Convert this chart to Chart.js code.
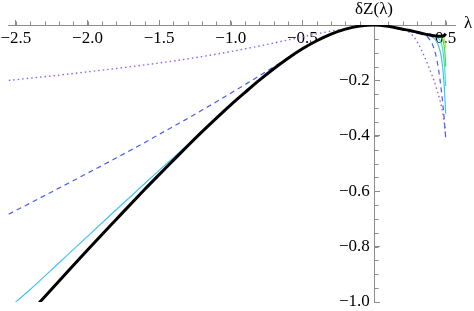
<!DOCTYPE html>
<html>
<head>
<meta charset="utf-8">
<script src="https://cdn.jsdelivr.net/npm/chart.js@4.4.1/dist/chart.umd.min.js"></script>
<style>
    html, body { margin: 0; padding: 0; background: #fff; }
    #wrap { width: 474px; height: 311px; }
</style>
</head>
<body>
<div id="wrap"><canvas id="deltaZ" width="474" height="311"></canvas></div>
<script>
// lambda grid shared by the full-range curves
const lambdaGrid = [-2.55, -2.4, -2.2, -2.0, -1.8, -1.6, -1.5, -1.4, -1.3, -1.2, -1.1, -1.0,
    -0.9, -0.8, -0.7, -0.6, -0.5, -0.4, -0.3, -0.2, -0.1, 0, 0.1, 0.2, 0.25, 0.3, 0.35,
    0.4, 0.42, 0.44, 0.46, 0.47, 0.48, 0.49, 0.495, 0.5];

// exact curve (thick black)
const zExact = [-1.120, -1.038, -0.925, -0.812, -0.702, -0.593, -0.540, -0.488, -0.436, -0.385, -0.336, -0.288,
    -0.243, -0.199, -0.158, -0.120, -0.086, -0.057, -0.033, -0.015, -0.004, 0, -0.005, -0.015, -0.020, -0.026, -0.032,
    -0.037, -0.039, -0.040, -0.041, -0.041, -0.040, -0.038, -0.035, -0.031];

// approximations (dotted purple, dashed blue, cyan)
const zOrder1 = [-0.200, -0.192, -0.181, -0.169, -0.157, -0.144, -0.137, -0.130, -0.122, -0.114, -0.105, -0.096,
    -0.086, -0.076, -0.065, -0.054, -0.043, -0.032, -0.022, -0.013, -0.004, 0, -0.005, -0.016, -0.028, -0.060, -0.112,
    -0.175, -0.203, -0.236, -0.272, -0.294, -0.320, -0.353, -0.375, -0.400];
const zOrder2 = [-0.683, -0.643, -0.589, -0.535, -0.480, -0.424, -0.395, -0.366, -0.337, -0.307, -0.277, -0.246,
    -0.215, -0.183, -0.151, -0.119, -0.086, -0.057, -0.033, -0.015, -0.004, 0, -0.005, -0.015, -0.020, -0.026, -0.034,
    -0.062, -0.088, -0.130, -0.196, -0.238, -0.286, -0.341, -0.373, -0.410];
const zOrder3 = [-1.022, -0.955, -0.859, -0.763, -0.667, -0.572, -0.525, -0.479, -0.432, -0.385, -0.336, -0.288,
    -0.243, -0.199, -0.158, -0.120, -0.086, -0.057, -0.033, -0.015, -0.004, 0, -0.005, -0.015, -0.020, -0.026, -0.032,
    -0.042, -0.049, -0.063, -0.092, -0.117, -0.157, -0.222, -0.268, -0.320];

// higher orders only split off from the exact curve right at the end
const lambdaTail = [0.4, 0.42, 0.44, 0.46, 0.47, 0.48, 0.49, 0.495, 0.5];
const zOrder4 = [-0.037, -0.039, -0.044, -0.055, -0.067, -0.090, -0.138, -0.174, -0.220];
const zOrder5 = [-0.037, -0.039, -0.040, -0.041, -0.044, -0.052, -0.077, -0.104, -0.150];
const zOrder6 = [-0.037, -0.039, -0.040, -0.041, -0.041, -0.042, -0.049, -0.061, -0.085];

// ticks
const xMajorTicks = [-2.5, -2.0, -1.5, -1.0, -0.5, 0.5];
const xTickLabels = ['\u22122.5', '\u22122.0', '\u22121.5', '\u22121.0', '\u22120.5', '0.5'];
const xMinorTicks = [-2.5, -2.4, -2.3, -2.2, -2.1, -2.0, -1.9, -1.8, -1.7, -1.6, -1.5, -1.4, -1.3, -1.2, -1.1,
    -1.0, -0.9, -0.8, -0.7, -0.6, -0.5, -0.4, -0.3, -0.2, -0.1, 0.1, 0.2, 0.3, 0.4, 0.5];
const yMajorTicks = [-0.2, -0.4, -0.6, -0.8, -1.0];
const yTickLabels = ['\u22120.2', '\u22120.4', '\u22120.6', '\u22120.8', '\u22121.0'];
const yMinorTicks = [-0.05, -0.1, -0.15, -0.2, -0.25, -0.3, -0.35, -0.4, -0.45, -0.5, -0.55, -0.6, -0.65,
    -0.7, -0.75, -0.8, -0.85, -0.9, -0.95, -1.0];

const axisColor = '#8c8c8c';
const serif = '"Liberation Serif", serif';

function toPoints(xs, ys) {
    return xs.map((x, i) => ({ x: x, y: ys[i] }));
}

function curve(xs, ys, color, width, dash) {
    return {
        data: toPoints(xs, ys),
        borderColor: color,
        borderWidth: width,
        borderDash: dash || [],
        pointRadius: 0,
        fill: false,
        tension: 0.4,
        cubicInterpolationMode: 'monotone'
    };
}

// axes sit inside the plot, so they must not take layout room
function noRoom(scale) {
    if (scale.isHorizontal()) scale.height = 0; else scale.width = 0;
    scale.paddingLeft = 0;
    scale.paddingRight = 0;
    scale.paddingTop = 0;
    scale.paddingBottom = 0;
}

// minor ticks and the two axis titles
const axisExtras = {
    id: 'axisExtras',
    beforeDatasetsDraw(chart) {
        const { ctx, scales: { x, y } } = chart;
        const x0 = Math.round(x.getPixelForValue(0)) + 0.5;
        const y0 = Math.round(y.getPixelForValue(0)) + 0.5;
        ctx.save();
        ctx.strokeStyle = axisColor;
        ctx.lineWidth = 1;
        ctx.beginPath();
        xMinorTicks.forEach((v) => {
            const px = Math.round(x.getPixelForValue(v)) + 0.5;
            ctx.moveTo(px, y0);
            ctx.lineTo(px, y0 - 4);
        });
        yMinorTicks.forEach((v) => {
            const py = Math.round(y.getPixelForValue(v)) + 0.5;
            ctx.moveTo(x0, py);
            ctx.lineTo(x0 + 4, py);
        });
        ctx.stroke();
        ctx.restore();
    },
    afterDraw(chart) {
        const { ctx, scales: { x, y } } = chart;
        const x0 = x.getPixelForValue(0);
        const y0 = y.getPixelForValue(0);
        ctx.save();
        ctx.fillStyle = '#000';
        ctx.font = '17px ' + serif;
        ctx.textBaseline = 'middle';
        ctx.textAlign = 'left';
        ctx.fillText('\u03bb', x.right + 9, y0 - 1);
        ctx.textAlign = 'center';
        ctx.textBaseline = 'alphabetic';
        ctx.fillText('\u03b4Z(\u03bb)', x0, y0 - 11);
        ctx.restore();
    }
};

new Chart(document.getElementById('deltaZ').getContext('2d'), {
    type: 'line',
    data: {
        datasets: [
            curve(lambdaGrid, zExact, '#000000', 3),
            curve(lambdaTail, zOrder6, '#b4e640', 1.2),
            curve(lambdaTail, zOrder5, '#44e044', 1.2),
            curve(lambdaTail, zOrder4, '#40e0c8', 1.2),
            curve(lambdaGrid, zOrder3, '#45c3f2', 1.2),
            curve(lambdaGrid, zOrder2, '#4a5cf0', 1.2, [5, 4]),
            curve(lambdaGrid, zOrder1, '#9363f0', 1.4, [1.5, 3])
        ]
    },
    options: {
        responsive: false,
        animation: false,
        layout: { padding: { left: 8, right: 19, top: 25, bottom: 9 } },
        plugins: {
            legend: { display: false },
            tooltip: { enabled: false }
        },
        scales: {
            x: {
                type: 'linear',
                min: -2.555,
                max: 0.565,
                position: { y: 0 },
                afterBuildTicks: (scale) => { scale.ticks = xMajorTicks.map(v => ({ value: v })); },
                afterFit: noRoom,
                grid: { drawOnChartArea: false, drawTicks: true, tickLength: -6, color: axisColor },
                border: { display: true, color: axisColor, width: 1 },
                ticks: {
                    autoSkip: false,
                    maxRotation: 0,
                    padding: 9,
                    color: '#000',
                    font: { family: serif, size: 17 },
                    callback: (value, index) => xTickLabels[index]
                }
            },
            y: {
                type: 'linear',
                min: -1.0,
                max: 0,
                position: { x: 0 },
                afterBuildTicks: (scale) => { scale.ticks = yMajorTicks.map(v => ({ value: v })); },
                afterFit: noRoom,
                grid: { drawOnChartArea: false, drawTicks: true, tickLength: -6, color: axisColor },
                border: { display: true, color: axisColor, width: 1 },
                ticks: {
                    autoSkip: false,
                    color: '#000',
                    font: { family: serif, size: 17 },
                    callback: (value, index) => yTickLabels[index] + ' '
                }
            }
        }
    },
    plugins: [axisExtras]
});
</script>
</body>
</html>
